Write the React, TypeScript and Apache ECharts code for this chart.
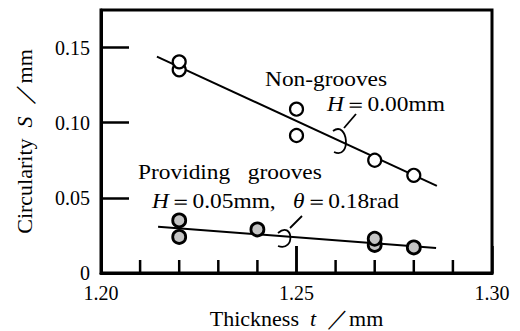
import React, { useEffect, useRef } from "react";
import * as echarts from "echarts";

const FONT = "Liberation Serif";

const xTickLabels = ["1.20", "1.25", "1.30"];
const xTickValues = [1.21, 1.22, 1.23, 1.24, 1.25, 1.26, 1.27, 1.28, 1.29];
const xMajorTick = 1.25;
const nonGroovePoints: number[][] = [
  [1.22, 0.1352],
  [1.22, 0.1405],
  [1.25, 0.0915],
  [1.25, 0.109],
  [1.27, 0.075],
  [1.28, 0.065],
];
const groovePoints: number[][] = [
  [1.22, 0.024],
  [1.22, 0.035],
  [1.24, 0.029],
  [1.27, 0.0187],
  [1.27, 0.0228],
  [1.28, 0.017],
];
const nonGrooveFit: number[][] = [
  [1.2143, 0.144],
  [1.2859, 0.058],
];
const grooveFit: number[][] = [
  [1.2146, 0.0307],
  [1.2857, 0.0167],
];

// x values are plotted in hundredths of a millimetre so the tick step is an integer
const hx = (x: number) => Math.round(x * 100000) / 1000;
const toAxis = (pts: number[][]) => pts.map(([x, y]) => [hx(x), y]);

const baseText = {
  fontFamily: FONT,
  fontStyle: "normal",
  fontWeight: "normal",
  color: "#000",
};

export default function App() {
  const ref = useRef<HTMLDivElement>(null);
  useEffect(() => {
    if (!ref.current) return;
    const chart = echarts.init(ref.current, undefined, { renderer: "svg" });
    const txt = (x: number, y: number, text: string) => ({
      type: "text",
      x,
      y,
      scaleX: 1.17,
      style: {
        text,
        fill: "#000",
        fontSize: 20,
        fontFamily: FONT,
        align: "left",
        verticalAlign: "middle",
        rich: {
          i: { fontStyle: "italic", fontSize: 20, fontFamily: FONT, fill: "#000" },
          n: { fontSize: 20, fontFamily: FONT, fill: "#000" },
        },
      },
    });
    const annotations: any[] = [
      txt(265, 80, "Non-grooves"),
      txt(327, 105, "{i|H}{n|＝0.00mm}"),
      txt(138, 173, "Providing   grooves"),
      txt(152, 202, "{i|H}{n|＝0.05mm,   }{i|θ}{n|＝0.18rad}"),
      {
        type: "bezierCurve",
        shape: { x1: 333, y1: 131, cpx1: 348, cpy1: 120, cpx2: 352, cpy2: 160, x2: 334, y2: 152 },
        style: { stroke: "#000", lineWidth: 1.8, fill: "none" },
      },
      {
        type: "line",
        shape: { x1: 344, y1: 128, x2: 356, y2: 114 },
        style: { stroke: "#000", lineWidth: 1.8 },
      },
      {
        type: "bezierCurve",
        shape: { x1: 278, y1: 233, cpx1: 293, cpy1: 220, cpx2: 296, cpy2: 252, x2: 278, y2: 246 },
        style: { stroke: "#000", lineWidth: 1.8, fill: "none" },
      },
      {
        type: "line",
        shape: { x1: 290, y1: 228, x2: 302, y2: 216 },
        style: { stroke: "#000", lineWidth: 1.8 },
      },
    ];
    chart.setOption({
      animation: false,
      backgroundColor: "#fff",
      textStyle: { fontFamily: FONT },
      grid: {
        left: 101,
        right: 28,
        top: 10,
        bottom: 58,
        outerBoundsMode: "none",
        containLabel: false,
        show: true,
        borderColor: "#000",
        borderWidth: 3,
        backgroundColor: "transparent",
      },
      xAxis: {
        type: "value",
        min: 120,
        max: 130,
        interval: 5,
        name: "Thickness  {i|t}  ／mm",
        nameLocation: "middle",
        nameGap: 32,
        nameTextStyle: {
          ...baseText,
          fontSize: 22,
          rich: { i: { ...baseText, fontStyle: "italic", fontSize: 22 } },
        },
        axisLine: { show: true, onZero: false, lineStyle: { color: "#000", width: 3 } },
        axisTick: { show: true, inside: true, length: 27, lineStyle: { color: "#000", width: 2.5 } },
        splitLine: { show: false },
        axisLabel: {
          ...baseText,
          fontSize: 20,
          margin: 10,
          formatter: (v: number) => {
            const s = (v / 100).toFixed(2);
            return xTickLabels.includes(s) ? s : "";
          },
        },
      },
      yAxis: {
        type: "value",
        min: 0,
        max: 0.175,
        interval: 0.05,
        name: "Circularity  {i|S}  ／mm",
        nameLocation: "middle",
        nameGap: 66,
        nameTextStyle: {
          ...baseText,
          fontSize: 22,
          rich: { i: { ...baseText, fontStyle: "italic", fontSize: 22 } },
        },
        axisLine: { show: true, lineStyle: { color: "#000", width: 3 } },
        axisTick: { show: true, inside: true, length: 28, lineStyle: { color: "#000", width: 2.5 } },
        splitLine: { show: false },
        axisLabel: {
          ...baseText,
          fontSize: 20,
          margin: 11,
          showMaxLabel: false,
          formatter: (v: number) => (v === 0 ? "0" : v > 0.16 ? "" : v.toFixed(2)),
        },
      },
      series: [
        {
          type: "line",
          data: toAxis(nonGrooveFit),
          symbol: "none",
          lineStyle: { color: "#000", width: 2 },
          z: 2,
        },
        {
          type: "line",
          data: toAxis(grooveFit),
          symbol: "none",
          lineStyle: { color: "#000", width: 2 },
          z: 2,
        },
        {
          type: "scatter",
          data: toAxis(nonGroovePoints),
          symbol: "circle",
          symbolSize: 13,
          itemStyle: { color: "#fff", borderColor: "#000", borderWidth: 2.2, opacity: 1 },
          z: 3,
        },
        {
          type: "scatter",
          data: toAxis(groovePoints),
          symbol: "circle",
          symbolSize: 13,
          itemStyle: { color: "#c4c4c4", borderColor: "#000", borderWidth: 2.8, opacity: 1 },
          z: 3,
        },
      ],
      graphic: annotations,
    });
    // x-axis ticks every 0.01 mm, placed through the axis scale (drawn as thin bars)
    const ticks = xTickValues.map((v) => {
      const p = chart.convertToPixel({ xAxisIndex: 0, yAxisIndex: 0 }, [hx(v), 0]) as number[];
      const len = Math.abs(v - xMajorTick) < 1e-6 ? 27 : 13;
      return {
        type: "rect",
        z: 100,
        shape: { x: p[0] - 1.25, y: p[1] - len, width: 2.5, height: len },
        style: { fill: "#000" },
      };
    });
    chart.setOption({ graphic: [...annotations, ...ticks] });
    return () => chart.dispose();
  }, []);
  return (
    <div
      ref={ref}
      style={{ position: "fixed", left: 0, top: 0, width: 520, height: 331, background: "#fff" }}
    />
  );
}
